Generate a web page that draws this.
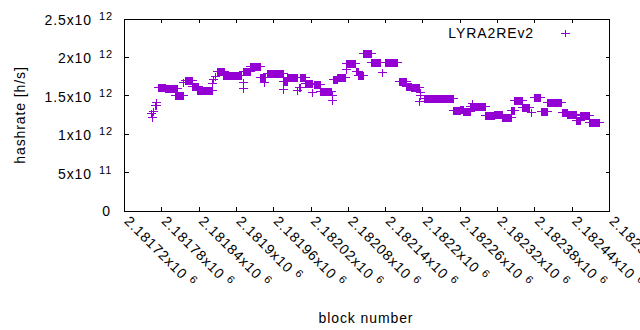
<!DOCTYPE html>
<html>
<head>
<meta charset="utf-8">
<script src="https://cdn.jsdelivr.net/npm/d3@7"></script>
<style>
body { margin: 0; background: #fff; }
text { font-family: "Liberation Sans", Arial, sans-serif; font-size: 14px; letter-spacing: 0.9px; fill: #000; }
</style>
</head>
<body>
<script>
const {select, scaleLinear} = d3;
const width = 640;
const height = 330;
const margin = {top: 19, right: 30.5, bottom: 119, left: 124.5};
const color = '#9400d3';

// runs of consecutive blocks that share one hashrate estimate
const blockFrom = [2181763, 2181764, 2181766, 2181770, 2181769, 2181774, 2181785, 2181802, 2181814, 2181817,
    2181828, 2181836, 2181860, 2181863, 2181865, 2181868, 2181879, 2181911, 2181911, 2181911,
    2181922, 2181938, 2181945, 2181949, 2181975, 2181975, 2181981, 2181998, 2182001, 2182003,
    2182011, 2182022, 2182024, 2182034, 2182053, 2182053, 2182056, 2182061, 2182076, 2182077,
    2182092, 2182096, 2182104, 2182117, 2182134, 2182139, 2182161, 2182173, 2182180, 2182195,
    2182196, 2182194, 2182201, 2182248, 2182259, 2182265, 2182276, 2182279, 2182300, 2182314,
    2182327, 2182341, 2182347, 2182359, 2182373, 2182378, 2182390, 2182400, 2182423, 2182432,
    2182446, 2182453, 2182467];
const blockTo = [2181763, 2181764, 2181766, 2181770, 2181771, 2181785, 2181804, 2181814, 2181814, 2181828,
    2181838, 2181860, 2181860, 2181863, 2181865, 2181880, 2181908, 2181911, 2181911, 2181922,
    2181938, 2181946, 2181945, 2181975, 2181975, 2181981, 2181997, 2181998, 2182002, 2182011,
    2182021, 2182022, 2182034, 2182052, 2182053, 2182053, 2182061, 2182075, 2182076, 2182091,
    2182096, 2182104, 2182116, 2182131, 2182134, 2182159, 2182173, 2182180, 2182194, 2182195,
    2182196, 2182194, 2182248, 2182259, 2182265, 2182275, 2182299, 2182279, 2182314, 2182327,
    2182341, 2182346, 2182359, 2182370, 2182373, 2182389, 2182400, 2182422, 2182432, 2182446,
    2182453, 2182467, 2182483];
const hashrate = [1.272e12, 1.220e12, 1.306e12, 1.423e12, 1.380e12, 1.621e12, 1.601e12, 1.506e12, 1.680e12, 1.706e12,
    1.628e12, 1.572e12, 1.663e12, 1.715e12, 1.758e12, 1.829e12, 1.777e12, 1.683e12, 1.605e12, 1.823e12,
    1.894e12, 1.749e12, 1.683e12, 1.799e12, 1.585e12, 1.699e12, 1.739e12, 1.582e12, 1.614e12, 1.741e12,
    1.672e12, 1.543e12, 1.650e12, 1.569e12, 1.439e12, 1.510e12, 1.719e12, 1.747e12, 1.845e12, 1.923e12,
    1.820e12, 1.777e12, 2.055e12, 1.937e12, 1.814e12, 1.937e12, 1.690e12, 1.630e12, 1.611e12, 1.553e12,
    1.510e12, 1.436e12, 1.471e12, 1.315e12, 1.331e12, 1.308e12, 1.363e12, 1.410e12, 1.256e12, 1.269e12,
    1.228e12, 1.315e12, 1.448e12, 1.350e12, 1.289e12, 1.482e12, 1.308e12, 1.413e12, 1.289e12, 1.263e12,
    1.191e12, 1.253e12, 1.161e12];

const xTicks = [2181720, 2181780, 2181840, 2181900, 2181960, 2182020, 2182080, 2182140, 2182200, 2182260,
    2182320, 2182380, 2182440, 2182500];
const xTickLabels = ['2.18172', '2.18178', '2.18184', '2.1819', '2.18196', '2.18202', '2.18208', '2.18214',
    '2.1822', '2.18226', '2.18232', '2.18238', '2.18244', '2.1825'];
const xTickPower = '6';
const yTicks = [0, 5e11, 1e12, 1.5e12, 2e12, 2.5e12];
const yTickLabels = ['0', '5x10', '1x10', '1.5x10', '2x10', '2.5x10'];
const yTickPowers = ['', '11', '12', '12', '12', '12'];

const runs = blockFrom.map((b, i) => ({from: b, to: blockTo[i], value: hashrate[i]}));

const x = scaleLinear()
    .domain([xTicks[0], xTicks[xTicks.length - 1]])
    .range([margin.left, width - margin.right]);
const y = scaleLinear()
    .domain([0, 2.5e12])
    .range([height - margin.bottom, margin.top]);

const svg = select('body')
    .append('svg')
    .attr('width', width)
    .attr('height', height);

const x0 = margin.left, x1 = width - margin.right;
const y0 = height - margin.bottom, y1 = margin.top;

// tics on all four sides, pointing inward
const tics = svg.append('g')
    .attr('stroke', '#000')
    .attr('stroke-width', 1)
    .attr('shape-rendering', 'crispEdges');
xTicks.forEach(t => {
    tics.append('line').attr('x1', x(t)).attr('x2', x(t)).attr('y1', y0).attr('y2', y0 - 4);
    tics.append('line').attr('x1', x(t)).attr('x2', x(t)).attr('y1', y1).attr('y2', y1 + 4);
});
yTicks.forEach(t => {
    tics.append('line').attr('x1', x0).attr('x2', x0 + 4).attr('y1', y(t)).attr('y2', y(t));
    tics.append('line').attr('x1', x1).attr('x2', x1 - 4).attr('y1', y(t)).attr('y2', y(t));
});

svg.append('rect')
    .attr('x', x0)
    .attr('y', y1)
    .attr('width', x1 - x0)
    .attr('height', y0 - y1)
    .attr('fill', 'none')
    .attr('stroke', '#000')
    .attr('shape-rendering', 'crispEdges');

// y tick labels, mantissa and raised exponent
yTicks.forEach((t, i) => {
    if (yTickPowers[i] === '') {
        svg.append('text').attr('x', 111).attr('y', y(t) + 5).attr('text-anchor', 'end').text(yTickLabels[i]);
        return;
    }
    svg.append('text').attr('x', 92).attr('y', y(t) + 6).attr('text-anchor', 'end').text(yTickLabels[i]);
    svg.append('text').attr('x', 99).attr('y', y(t) + 1).style('font-size', '11px').text(yTickPowers[i]);
});

// x tick labels, rotated down to the right (the last one runs off the page, as in gnuplot)
xTicks.forEach((t, i) => {
    const label = svg.append('text')
        .attr('transform', `translate(${x(t) - 1},222) rotate(45)`);
    label.append('tspan').text(xTickLabels[i] + 'x10');
    label.append('tspan').attr('dx', 5).attr('dy', -5).style('font-size', '11px').text(xTickPower);
});

svg.append('text')
    .attr('x', 366)
    .attr('y', 323)
    .attr('text-anchor', 'middle')
    .text('block number');

svg.append('text')
    .attr('transform', 'translate(25,115) rotate(-90)')
    .attr('text-anchor', 'middle')
    .text('hashrate [h/s]');

// each run is drawn as the union of its '+' points
const marks = svg.append('g')
    .attr('fill', color)
    .attr('stroke', color)
    .attr('shape-rendering', 'crispEdges');

marks.selectAll('rect')
    .data(runs)
    .enter()
    .append('rect')
    .attr('x', d => Math.round(x(d.from)) - 0.5)
    .attr('y', d => Math.round(y(d.value)) - 3.5)
    .attr('width', d => Math.round(x(d.to)) - Math.round(x(d.from)) + 1)
    .attr('height', 8)
    .attr('stroke', 'none');

marks.selectAll('line')
    .data(runs)
    .enter()
    .append('line')
    .attr('x1', d => Math.round(x(d.from)) - 4.5)
    .attr('x2', d => Math.round(x(d.to)) + 4.5)
    .attr('y1', d => Math.round(y(d.value)) + 0.5)
    .attr('y2', d => Math.round(y(d.value)) + 0.5);

// key
svg.append('text')
    .attr('x', 534)
    .attr('y', 38)
    .attr('text-anchor', 'end')
    .text('LYRA2REv2');
const key = svg.append('g').attr('stroke', color).attr('shape-rendering', 'crispEdges');
key.append('line').attr('x1', 561).attr('x2', 570).attr('y1', 33.5).attr('y2', 33.5);
key.append('line').attr('x1', 565.5).attr('x2', 565.5).attr('y1', 30).attr('y2', 37);
</script>
</body>
</html>
